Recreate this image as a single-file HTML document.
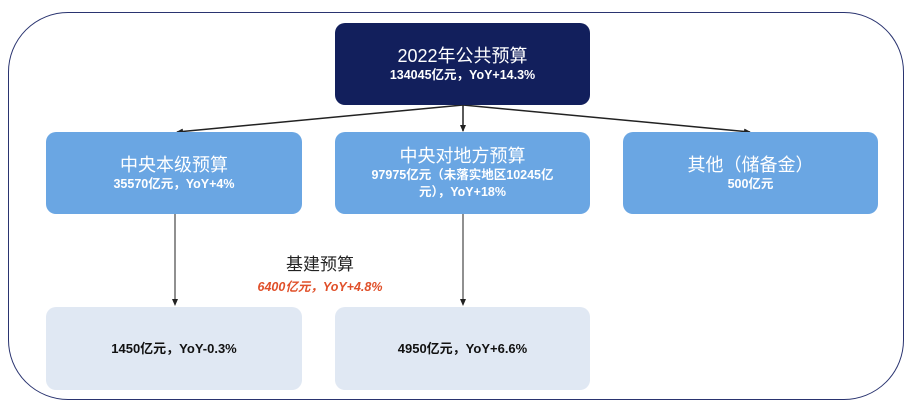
<!DOCTYPE html>
<html><head><meta charset="utf-8"><style>
body{margin:0;width:914px;height:412px;background:#fff;font-family:"Liberation Sans","Noto Sans CJK SC",sans-serif;position:relative;overflow:hidden}
.o{position:absolute;left:8px;top:12px;width:896px;height:388px;border:1.5px solid #2a3470;border-radius:60px;box-sizing:border-box}
.b{position:absolute;border-radius:10px;display:flex;flex-direction:column;align-items:center;justify-content:center;text-align:center;color:#fff;box-sizing:border-box}
.t{font-size:18px;line-height:22px}
.s{font-size:12.5px;font-weight:bold;line-height:17px}
.m{background:#6aa6e3}
.l{background:#e0e8f3;color:#111}
</style></head><body>
<div class="o"></div>
<svg width="914" height="412" style="position:absolute;left:0;top:0">
<defs><marker id="a" markerWidth="8" markerHeight="8" refX="6" refY="4" orient="auto" markerUnits="userSpaceOnUse"><path d="M0,1 L7,4 L0,7z" fill="#222"/></marker></defs>
<g stroke="#222" stroke-width="1.5" fill="none">
<line x1="463" y1="105" x2="177" y2="132" marker-end="url(#a)"/>
<line x1="463" y1="105" x2="463" y2="131" marker-end="url(#a)"/>
<line x1="463" y1="105" x2="750" y2="132" marker-end="url(#a)"/>
<line x1="175" y1="214" x2="175" y2="305" stroke-width="1" marker-end="url(#a)"/>
<line x1="463" y1="214" x2="463" y2="305" stroke-width="1" marker-end="url(#a)"/>
</g></svg>
<div class="b" style="left:335px;top:23px;width:255px;height:82px;background:#121f5c"><div class="t">2022年公共预算</div><div class="s">134045亿元，YoY+14.3%</div></div>
<div class="b m" style="left:46px;top:132px;width:256px;height:82px"><div class="t">中央本级预算</div><div class="s">35570亿元，YoY+4%</div></div>
<div class="b m" style="left:335px;top:132px;width:255px;height:82px"><div class="t">中央对地方预算</div><div class="s">97975亿元（未落实地区10245亿<br>元），YoY+18%</div></div>
<div class="b m" style="left:623px;top:132px;width:255px;height:82px"><div class="t">其他（储备金）</div><div class="s">500亿元</div></div>
<div style="position:absolute;left:230px;top:254px;width:180px;text-align:center"><div style="font-size:17px;color:#222;line-height:22px">基建预算</div><div style="font-size:12.5px;font-weight:bold;font-style:italic;color:#e0502a">6400亿元，YoY+4.8%</div></div>
<div class="b l" style="left:46px;top:307px;width:256px;height:83px"><div class="s" style="font-size:13px">1450亿元，YoY-0.3%</div></div>
<div class="b l" style="left:335px;top:307px;width:255px;height:83px"><div class="s" style="font-size:13px">4950亿元，YoY+6.6%</div></div>
</body></html>
